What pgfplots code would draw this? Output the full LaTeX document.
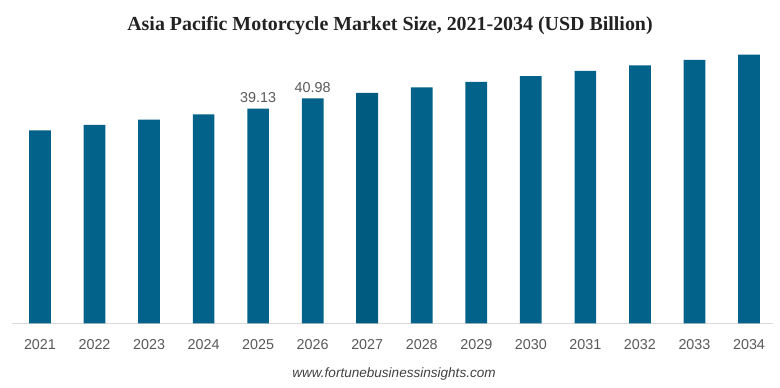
\documentclass[border=0pt]{standalone}
\usepackage{pgfplots}
\pgfplotsset{compat=1.18}
\usepackage{fontspec}
\setmainfont{Liberation Sans}
\newfontfamily\titlefont{Liberation Serif}
\definecolor{barblue}{HTML}{03628A}
\definecolor{bardark}{HTML}{005B80}
\definecolor{labelgray}{HTML}{595959}
\definecolor{axisgray}{HTML}{D9D9D9}
\definecolor{titlecol}{HTML}{222222}
\definecolor{footcol}{HTML}{404040}
\pgfplotstableread{
x y
0 35.17
1 36.14
2 37.11
3 38.09
4 39.13
5 40.98
6 41.97
7 43.01
8 43.98
9 45.02
10 45.98
11 47.02
12 47.99
13 48.95
}\sizedata
\begin{document}
\begin{tikzpicture}
\path[use as bounding box] (0,0) rectangle (780bp,388bp);
\begin{axis}[
  at={(12bp,64.7bp)}, anchor=south west,
  scale only axis, width=761bp, height=274.4bp,
  xmin=-0.513, xmax=13.44, ymin=0, ymax=50,
  axis x line*=bottom, axis y line=none,
  x axis line style={axisgray, line width=1bp},
  xtick={0,...,13},
  xticklabels={2021,2022,2023,2024,2025,2026,2027,2028,2029,2030,2031,2032,2033,2034},
  major tick length=0pt, tick style={draw=none},
  xticklabel style={font=\fontsize{14.4}{16}\selectfont, text=labelgray, anchor=base, yshift=-26bp, inner sep=0pt},
  ytick=\empty,
  clip=false,
]
\addplot[ybar, bar width=21.7bp, bar shift=0pt, fill=barblue, draw=none] table[x=x, y=y] {\sizedata};
\addplot[ybar, bar width=21.7bp, bar shift=0pt, fill=bardark, draw=none] coordinates {(6,41.97)};
\addplot[draw=none, mark=none, nodes near coords, point meta=explicit symbolic,
  every node near coord/.style={font=\fontsize{14.4}{16}\selectfont, text=labelgray, anchor=base, yshift=6bp, inner sep=0pt}]
  coordinates {(4,39.13) [39.13] (5,40.98) [40.98]};
\end{axis}
\node[anchor=base, font=\titlefont\bfseries\fontsize{20}{24}\selectfont, text=titlecol] at (390bp,357.3bp) {Asia Pacific Motorcycle Market Size, 2021-2034 (USD Billion)};
\node[anchor=base, font=\itshape\fontsize{13.6}{16}\selectfont, text=footcol] at (394bp,10.7bp) {www.fortunebusinessinsights.com};
\end{tikzpicture}
\end{document}
